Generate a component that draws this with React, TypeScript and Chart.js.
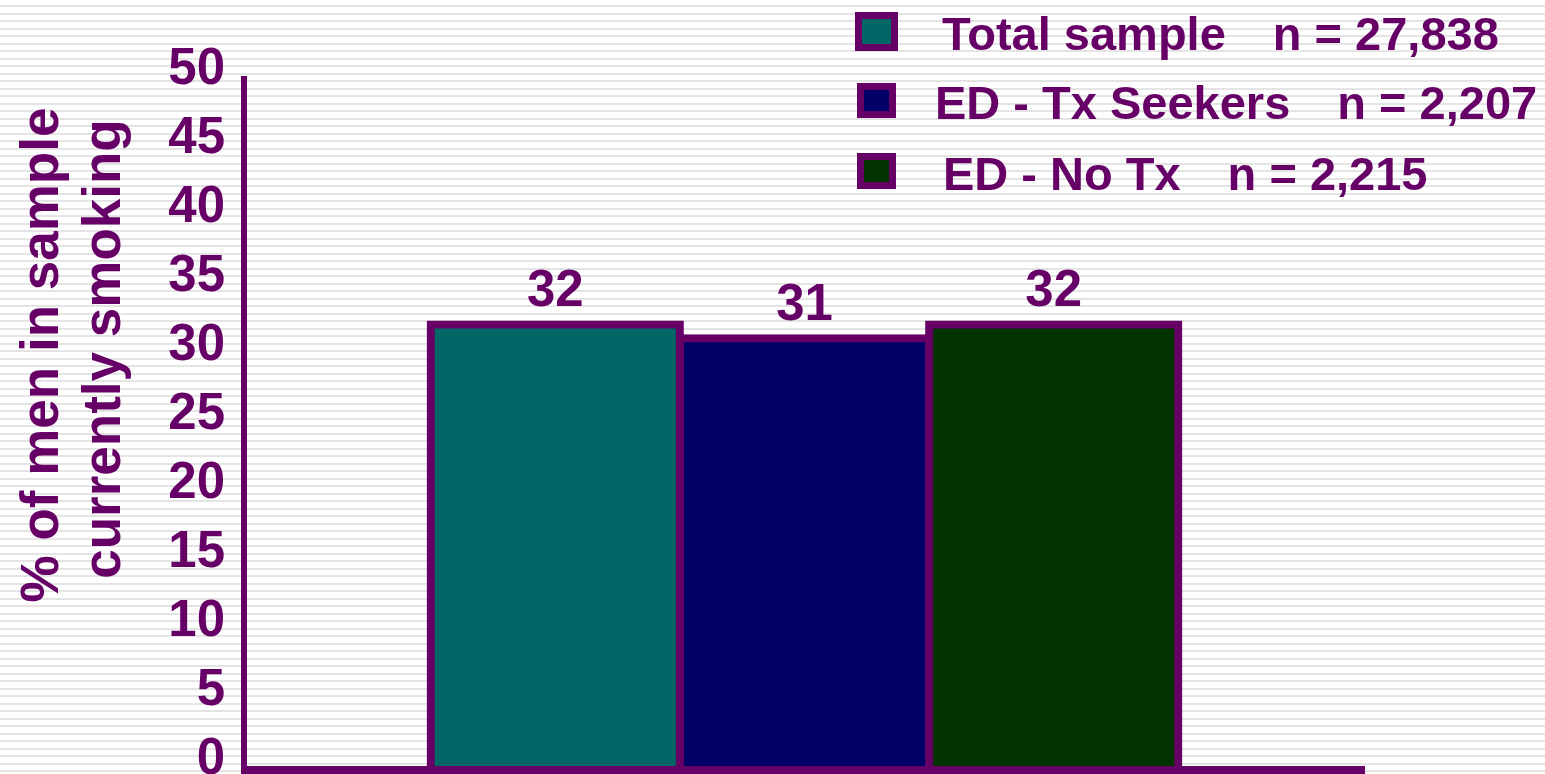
import { useEffect, useRef } from 'react';
import { Chart, registerables } from 'chart.js';

Chart.register(...registerables);

// ---- data ----
const categories = [''];
const seriesNames = ['Total sample', 'ED - Tx Seekers', 'ED - No Tx'];
const sampleSizes = ['n = 27,838', 'n = 2,207', 'n = 2,215'];
const totalSample = [32];
const txSeekers = [31];
const noTx = [32];
const seriesColors = ['#006666', '#000066', '#003300'];
const yTitleLines = ['% of men in sample', 'currently smoking'];
const yMin = 0;
const yMax = 50;
const yStep = 5;

const PURPLE = '#660066';
const FONT = '"Liberation Sans", Arial, Helvetica, sans-serif';

// striped slide background
const stripesPlugin = {
  id: 'stripes',
  beforeDraw(chart: any) {
    const { ctx, width, height } = chart;
    ctx.save();
    ctx.fillStyle = '#ffffff';
    ctx.fillRect(0, 0, width, height);
    ctx.fillStyle = '#e4e4e4';
    for (let y = 5; y < height; y += 7.5) {
      ctx.fillRect(0, Math.round(y), width, 2);
    }
    ctx.restore();
  },
};

// axis lines and value labels above the bars
const framePlugin = {
  id: 'frame',
  afterDatasetsDraw(chart: any) {
    const { ctx, chartArea, height } = chart;
    ctx.save();
    ctx.fillStyle = PURPLE;
    ctx.fillRect(chartArea.left + 1, chartArea.bottom, chartArea.right - chartArea.left - 1, 8);
    ctx.fillRect(chartArea.left - 3, chartArea.top, 6, height - chartArea.top);

    ctx.font = `bold 51px ${FONT}`;
    ctx.textAlign = 'center';
    ctx.textBaseline = 'alphabetic';
    chart.data.datasets.forEach((ds: any, i: number) => {
      const meta = chart.getDatasetMeta(i);
      meta.data.forEach((bar: any, j: number) => {
        ctx.fillText(String(ds.data[j]), bar.x, bar.y - 18);
      });
    });
    ctx.restore();
  },
};

// legend block and rotated axis title
const annotationsPlugin = {
  id: 'annotations',
  afterDraw(chart: any) {
    const { ctx } = chart;
    ctx.save();
    ctx.fillStyle = PURPLE;

    // y-axis title, two rotated lines
    ctx.font = `bold 53px ${FONT}`;
    ctx.textAlign = 'center';
    ctx.textBaseline = 'alphabetic';
    const titlePos = [
      { x: 58, y: 355 },
      { x: 120, y: 349 },
    ];
    yTitleLines.forEach((line, i) => {
      ctx.save();
      ctx.translate(titlePos[i].x, titlePos[i].y);
      ctx.rotate(-Math.PI / 2);
      ctx.fillText(line, 0, 0);
      ctx.restore();
    });

    // legend
    const rows = [
      { base: 50, textX: 942, boxW: 43, boxH: 39 },
      { base: 119, textX: 935, boxW: 39, boxH: 35 },
      { base: 190, textX: 943, boxW: 39, boxH: 36 },
    ];
    ctx.font = `bold 47px ${FONT}`;
    ctx.textAlign = 'left';
    chart.data.datasets.forEach((ds: any, i: number) => {
      const r = rows[i];
      const cx = 876;
      const cy = r.base - 19;
      const bx = Math.round(cx - r.boxW / 2);
      const by = Math.round(cy - r.boxH / 2);
      ctx.fillStyle = PURPLE;
      ctx.fillRect(bx, by, r.boxW, r.boxH);
      ctx.fillStyle = ds.backgroundColor;
      ctx.fillRect(bx + 7, by + 7, r.boxW - 14, r.boxH - 14);

      ctx.fillStyle = PURPLE;
      ctx.fillText(seriesNames[i], r.textX, r.base);
      const w = ctx.measureText(seriesNames[i]).width;
      ctx.fillText(sampleSizes[i], r.textX + w + 47, r.base);
    });
    ctx.restore();
  },
};

export default function App() {
  const canvasRef = useRef<HTMLCanvasElement | null>(null);

  useEffect(() => {
    document.body.style.margin = '0';
    const canvas = canvasRef.current;
    if (!canvas) return;
    const series = [totalSample, txSeekers, noTx];
    const chart = new Chart(canvas, {
      type: 'bar',
      data: {
        labels: categories,
        datasets: series.map((values, i) => ({
          label: seriesNames[i],
          data: values,
          backgroundColor: seriesColors[i],
          borderColor: PURPLE,
          borderWidth: 8,
          inflateAmount: 4,
          barPercentage: 1,
          categoryPercentage: 0.667,
        })),
      },
      options: {
        animation: false,
        responsive: true,
        maintainAspectRatio: false,
        layout: { padding: { top: 76, right: 180, bottom: 8, left: 0 } },
        plugins: {
          legend: { display: false },
          tooltip: { enabled: false },
          title: { display: false },
        },
        scales: {
          x: {
            display: false,
          },
          y: {
            min: yMin,
            max: yMax,
            afterFit(axis: any) {
              axis.width = 244;
              axis.paddingTop = 0;
              axis.paddingBottom = 0;
            },
            grid: { display: false, drawTicks: false },
            border: { display: false },
            ticks: {
              stepSize: yStep,
              padding: 19,
              labelOffset: -6,
              color: PURPLE,
              font: { family: FONT, size: 51, weight: 'bold' },
            },
          },
        },
      } as any,
      plugins: [stripesPlugin, framePlugin, annotationsPlugin],
    });
    return () => chart.destroy();
  }, []);

  return (
    <div style={{ position: 'fixed', left: 0, top: 0, width: '100vw', height: '100vh' }}>
      <canvas ref={canvasRef} />
    </div>
  );
}
